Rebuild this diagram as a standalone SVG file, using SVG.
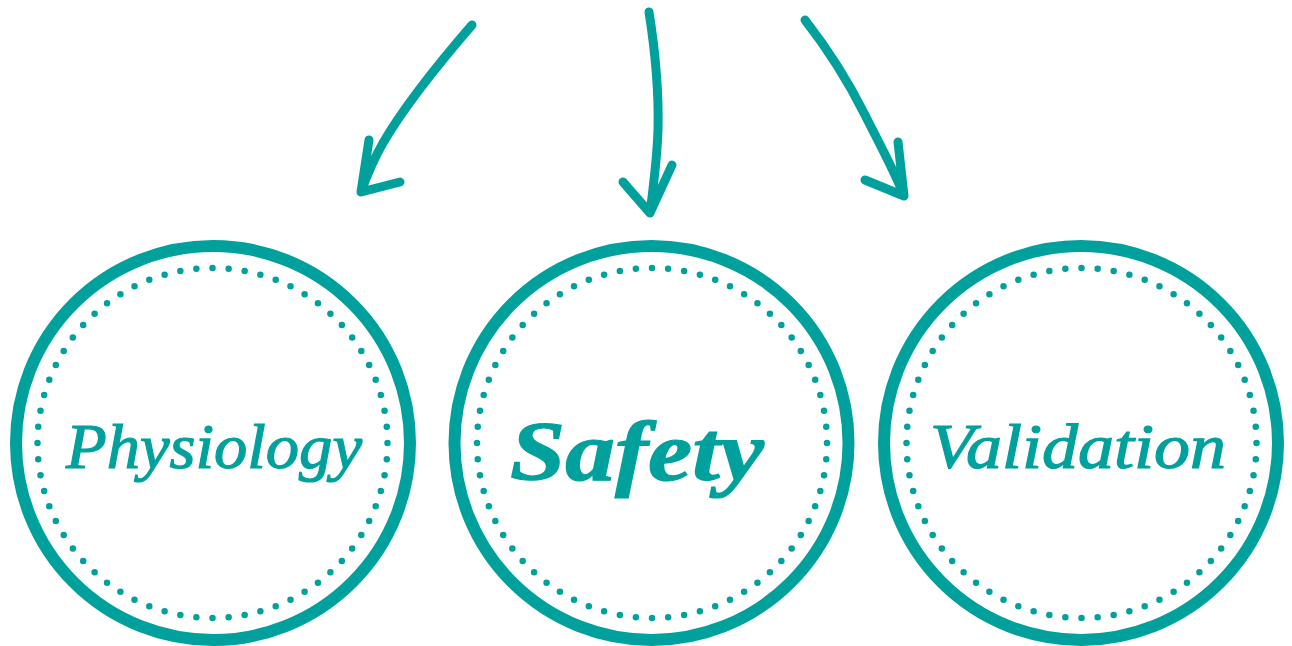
<svg xmlns="http://www.w3.org/2000/svg" width="1292" height="646" viewBox="0 0 1292 646">
<style>
.ring{fill:none;stroke:#00a19d;stroke-width:12}
.dots{fill:none;stroke:#00a19d;stroke-width:6.5;stroke-linecap:round;stroke-dasharray:0 1}
.lbl{fill:#00a19d;stroke:#00a19d;stroke-width:1.2;font-family:"Liberation Serif",serif;font-style:italic;text-anchor:middle}
.arw{fill:none;stroke:#00a19d;stroke-width:9;stroke-linecap:round;stroke-linejoin:round}
</style>
<rect width="1292" height="646" fill="#ffffff"/>
<g id="connectors">
<path class="arw" d="M472,25 C440,62 405,105 383,143 C372,162 366,178 361,192 M369,140 L361,192 L400,182"/>
<path class="arw" d="M649,12 C655,50 659,90 658,130 C657,160 653,190 650,213 M623,182 L650,213 L672,165"/>
<path class="arw" d="M805,20 C830,52 850,85 865,115 C880,145 895,172 904,196 M898,142 L904,196 L865,180"/>
</g>
<g id="node-physiology">
<circle class="ring" cx="213" cy="443" r="197"/>
<circle class="dots" cx="212.5" cy="443" r="175" pathLength="68"/>
<text class="lbl" x="214" y="468" font-size="64" textLength="296" lengthAdjust="spacingAndGlyphs">Physiology</text>
</g>
<g id="node-safety">
<circle class="ring" cx="651.5" cy="443" r="197"/>
<circle class="dots" cx="652" cy="443" r="175" pathLength="68"/>
<text class="lbl" x="637" y="480" font-size="84" font-weight="bold" textLength="254" lengthAdjust="spacingAndGlyphs">Safety</text>
</g>
<g id="node-validation">
<circle class="ring" cx="1081" cy="443" r="197"/>
<circle class="dots" cx="1081.5" cy="443" r="175" pathLength="68"/>
<text class="lbl" x="1078" y="468" font-size="64" textLength="296" lengthAdjust="spacingAndGlyphs">Validation</text>
</g>
</svg>
